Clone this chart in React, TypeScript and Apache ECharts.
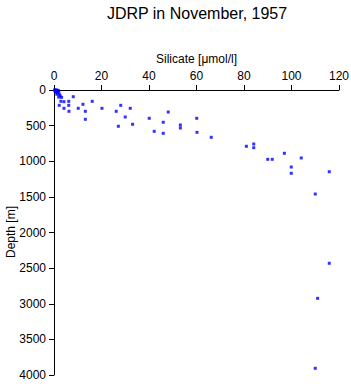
import React, { useEffect, useRef } from "react";
import * as echarts from "echarts";

const titleText = "JDRP in November, 1957";
const xName = "Silicate [\u03bcmol/l]";
const yName = "Depth [m]";

const silicate = [
  0.2, 0.6, 1.0, 1.4, 1.8, 0.5, 1.0, 1.5, 2.0, 1.2, 2.2, 2.6, 2.0, 3.2,
  2.9, 4.2, 6.2, 8.1, 2.2, 4.2, 6.2, 6.3, 10.2, 12.2, 16.1, 13.2, 13.2,
  20.2, 26.2, 28.1, 32.1, 27.1, 30.0, 33.1, 40.1, 42.2, 48.1, 46.0, 46.0,
  53.2, 53.2, 60.1, 60.2, 66.2, 81.0, 84.1, 84.1, 90.0, 91.9, 97.0, 104.1,
  99.9, 99.9, 115.9, 110.0, 120.1, 115.9, 111.0, 110.0,
];
const depth = [
  0, 0, 0, 10, 5, 20, 30, 40, 30, 60, 60, 80, 100, 103,
  159, 164, 159, 94, 215, 257, 215, 299, 257, 201, 159, 299, 411,
  257, 299, 215, 257, 509, 379, 481, 397, 580, 309, 453, 608,
  491, 533, 397, 594, 664, 790, 758, 810, 973, 973, 888, 954,
  1081, 1169, 1147, 1460, 1947, 2432, 2924, 3906,
];

const FONT = "Liberation Sans, Arial, sans-serif";

export default function App() {
  const ref = useRef<HTMLDivElement>(null);
  useEffect(() => {
    document.body.style.margin = "0";
    if (!ref.current) return;
    const chart = echarts.init(ref.current, null, { renderer: "svg" });
    const axisCommon = {
      axisLine: { show: true, lineStyle: { color: "#000", width: 1 } },
      axisTick: { show: true, length: 5, lineStyle: { color: "#000" } },
      axisLabel: {
        color: "#000",
        fontSize: 12,
        fontFamily: FONT,
        formatter: (v: number) => String(v),
      },
      splitLine: { show: false },
      nameTextStyle: { color: "#000", fontSize: 12, fontFamily: FONT },
    };
    chart.setOption({
      animation: false,
      backgroundColor: "#fff",
      graphic: [
        {
          type: "text",
          x: 197,
          y: 13,
          style: {
            text: titleText,
            fontSize: 16,
            fontFamily: FONT,
            fill: "#000",
            align: "center",
            verticalAlign: "middle",
          },
        },
        {
          type: "text",
          x: 11,
          y: 232,
          rotation: Math.PI / 2,
          style: {
            text: yName,
            fontSize: 12,
            fontFamily: FONT,
            fill: "#000",
            align: "center",
            verticalAlign: "middle",
          },
        },
      ],
      grid: {
        left: 54,
        top: 90,
        width: 285,
        height: 285,
        containLabel: false,
        outerBoundsMode: "none",
      },
      xAxis: {
        type: "value",
        position: "top",
        min: 0,
        max: 120,
        interval: 20,
        name: xName,
        nameLocation: "middle",
        nameGap: 24,
        ...axisCommon,
      },
      yAxis: {
        type: "value",
        inverse: true,
        min: 0,
        max: 4000,
        interval: 500,
        ...axisCommon,
      },
      series: [
        {
          type: "scatter",
          symbol: "rect",
          symbolSize: 3,
          itemStyle: { color: "#0000ff" },
          data: silicate.map((s, i) => [s, depth[i]]),
        },
      ],
    });
    return () => chart.dispose();
  }, []);
  return <div ref={ref} style={{ width: 351, height: 384 }} />;
}
